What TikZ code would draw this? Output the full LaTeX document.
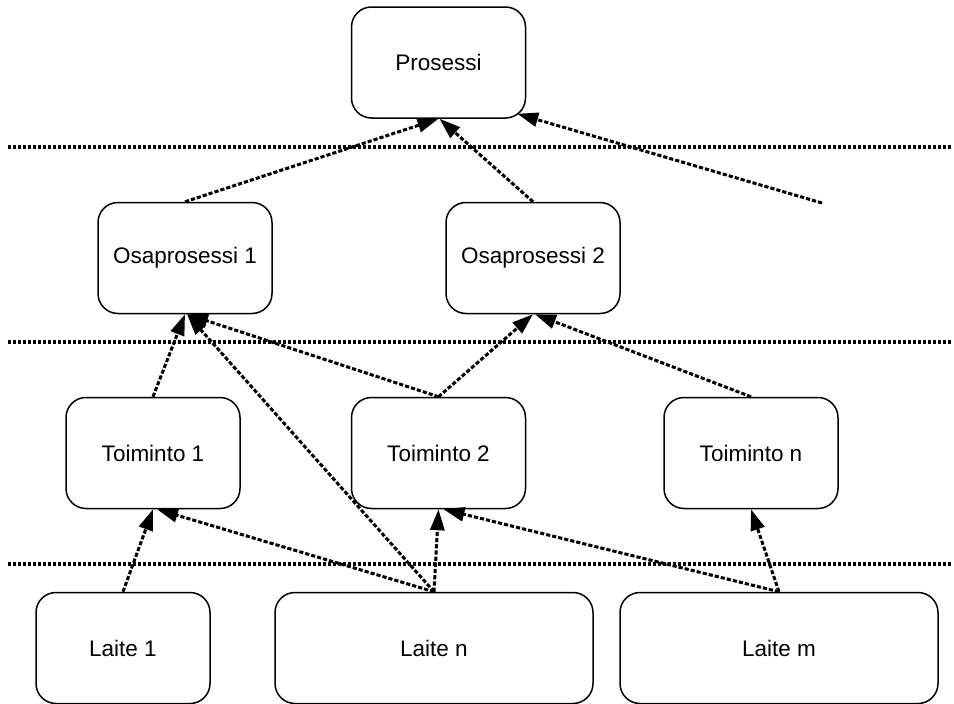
\documentclass[tikz,border=0pt]{standalone}
\usepackage{fontspec}
\setmainfont{Liberation Sans}
\usetikzlibrary{arrows.meta,calc}
\begin{document}
\begin{tikzpicture}[x=1pt,y=-1pt,
  box/.style={draw, line width=1.5pt, rounded corners=20pt, minimum height=111pt,
              inner sep=0pt, font=\fontsize{22.5}{27}\selectfont},
  narrow/.style={box, minimum width=174pt},
  wide/.style={box, minimum width=318pt},
  level/.style={line width=3.4pt, dash pattern=on 3.2pt off 1.8pt},
  flow/.style={line width=3pt, dash pattern=on 4.2pt off 2pt,
               -{Triangle[length=21pt,width=14pt]}}]
\useasboundingbox (0,0) rectangle (954,704);

% level separators
\coordinate (s1a) at (8,147);  \coordinate (s1b) at (952,147);
\coordinate (s2a) at (8,342);  \coordinate (s2b) at (952,342);
\coordinate (s3a) at (8,564);  \coordinate (s3b) at (952,564);
\draw[level] (s1a) -- (s1b);
\draw[level] (s2a) -- (s2b);
\draw[level] (s3a) -- (s3b);

% boxes
\node[narrow] (proc) at (438.5,62.5) {Prosessi};
\node[narrow] (osa1) at (185,258) {Osaprosessi 1};
\node[narrow] (osa2) at (533,258) {Osaprosessi 2};
\node[narrow] (toi1) at (153,453) {Toiminto 1};
\node[narrow] (toi2) at (438.5,453) {Toiminto 2};
\node[narrow] (toin) at (751,453) {Toiminto n};
\node[narrow] (lai1) at (123,648) {Laite 1};
\node[wide]   (lain) at (434,648) {Laite n};
\node[wide]   (laim) at (779,648) {Laite m};

\coordinate (loose) at (822,203);

% upward flows
\draw[flow] (osa1.north) -- (proc.south);
\draw[flow] (osa2.north) -- ($(proc.south)+(1,0)$);
\draw[flow] (loose) -- ($(proc.south east)+(-9,-5)$);

\draw[flow] (toi1.north) -- (osa1.south);
\draw[flow] (lain.north) -- ($(osa1.south)+(2,0)$);
\draw[flow] (toi2.north) -- ($(osa1.south)+(2,0)$);
\draw[flow] (toi2.north) -- (osa2.south);
\draw[flow] (toin.north) -- ($(osa2.south)+(2,0)$);

\draw[flow] (lai1.north) -- (toi1.south);
\draw[flow] (lain.north) -- ($(toi1.south)+(4,0)$);
\draw[flow] (lain.north) -- (toi2.south);
\draw[flow] (laim.north) -- ($(toi2.south)+(5,0)$);
\draw[flow] (laim.north) -- (toin.south);
\end{tikzpicture}
\end{document}
